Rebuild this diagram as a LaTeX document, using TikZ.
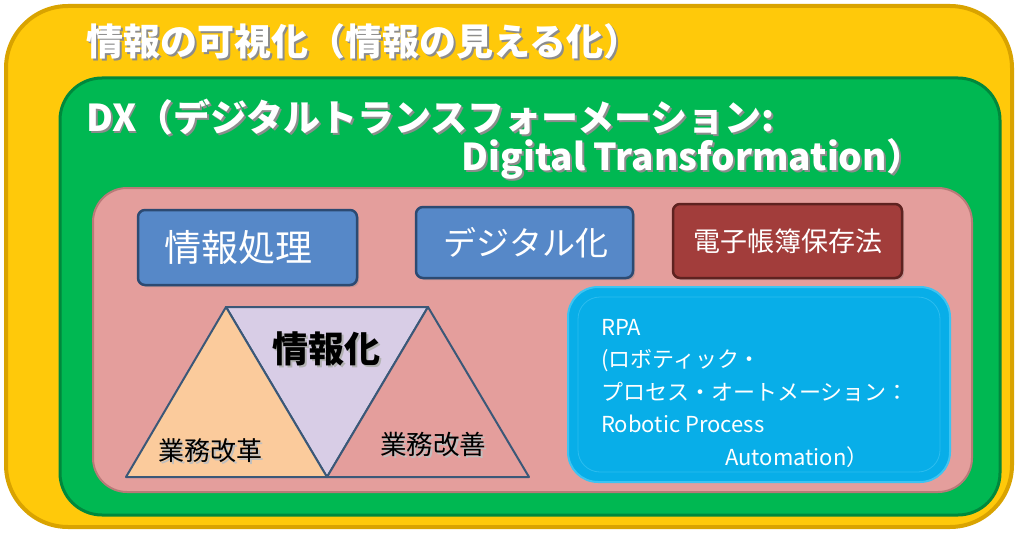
\documentclass[tikz,border=0pt]{standalone}
\usepackage{fontspec}
\setmainfont{Noto Sans CJK JP}
\usetikzlibrary{shadows}
\definecolor{cYellow}{HTML}{FFC90A}
\definecolor{cYellowE}{HTML}{D9A300}
\definecolor{cGreen}{HTML}{00B852}
\definecolor{cGreenE}{HTML}{00883C}
\definecolor{cPink}{HTML}{E49E9C}
\definecolor{cPinkE}{HTML}{B87A78}
\definecolor{cBlue}{HTML}{5688C8}
\definecolor{cBlueE}{HTML}{2C4A72}
\definecolor{cRed}{HTML}{A23D3B}
\definecolor{cRedE}{HTML}{5E2220}
\definecolor{cCyan}{HTML}{08AEE8}
\definecolor{cCyanE}{HTML}{3CC4F2}
\definecolor{cOrange}{HTML}{FBCB9C}
\definecolor{cLav}{HTML}{D8CDE6}
\definecolor{cTriE}{HTML}{3B5878}
\newcommand\shtxt[2][black!45]{\makebox[0pt][l]{\raisebox{-2pt}{\kern2pt\textcolor{#1}{#2}}}#2}
\begin{document}
\begin{tikzpicture}[x=1pt,y=-1pt,
  panel/.style={draw, rectangle, inner sep=0pt},
  btn/.style={panel, rounded corners=7pt, line width=2.5pt,
     drop shadow={shadow xshift=2pt, shadow yshift=-2pt, opacity=.35}},
  tri/.style={draw=cTriE, line width=2pt, line join=round},
  lbl/.style={inner sep=0pt, anchor=center},
  white title/.style={inner sep=0pt, text=white, font=\fontsize{37}{42}\selectfont\bfseries}
]
\useasboundingbox (0,0) rectangle (1018,535);
% outer yellow
\node[panel, fill=cYellow, draw=cYellowE, line width=4pt, rounded corners=62pt,
      minimum width=1006pt, minimum height=521pt] (outer) at (509,266.5) {};
\node[white title, anchor=west] (t1) at (86,42) {\shtxt{情報の可視化（情報の見える化）}};
% green
\node[panel, fill=cGreen, draw=cGreenE, line width=3pt, rounded corners=42pt,
      minimum width=940pt, minimum height=437pt] (green) at (530,296.5) {};
\node[white title, anchor=west] (t2) at (86,118) {\shtxt{DX（デジタルトランスフォーメーション:}};
\node[white title, anchor=east] (t3) at (924,160) {\shtxt{Digital Transformation）}};
% pink
\node[panel, fill=cPink, draw=cPinkE, line width=2pt, rounded corners=34pt,
      minimum width=879pt, minimum height=304pt] (pink) at (532.5,340) {};
% buttons
\node[btn, fill=cBlue, draw=cBlueE, minimum width=219pt, minimum height=75pt] (b1) at (247.5,247.5) {};
\node[lbl, text=white, font=\fontsize{37}{40}\selectfont] (b1t) at (238,247) {情報処理};
\node[btn, fill=cBlue, draw=cBlueE, minimum width=217pt, minimum height=71pt] (b2) at (524.5,242.5) {};
\node[lbl, text=white, font=\fontsize{33}{40}\selectfont] (b2t) at (526,242.5) {デジタル化};
\node[btn, fill=cRed, draw=cRedE, minimum width=229pt, minimum height=74pt] (b3) at (787.5,241) {};
\node[lbl, text=white, font=\fontsize{27}{32}\selectfont] (b3t) at (b3.center) {電子帳簿保存法};
% RPA
\node[panel, fill=cCyan, draw=cCyanE, line width=2pt, rounded corners=30pt,
      minimum width=382pt, minimum height=195pt] (rpa) at (759,384.5) {};
\node[panel, draw=cCyanE!70!cCyan, line width=0.8pt, rounded corners=22pt,
      minimum width=362pt, minimum height=175pt] (rpain) at (rpa.center) {};
\node[inner sep=0pt, anchor=north west, text=white, align=left,
      font=\fontsize{22}{32.5}\selectfont] (rpat) at (601,319)
  {RPA\\(ロボティック・\\プロセス・オートメーション：\\Robotic Process\\\hspace*{124pt}Automation）};
% triangles
\coordinate (A) at (226,307);
\coordinate (B) at (428,307);
\coordinate (L) at (126,477);
\coordinate (M) at (327,477);
\coordinate (R) at (529,477);
\draw[tri, fill=cLav] (A) -- (B) -- (M) -- cycle;
\draw[tri, fill=cOrange] (A) -- (M) -- (L) -- cycle;
\draw[tri, fill=cPink] (B) -- (R) -- (M) -- cycle;
\node[lbl, font=\fontsize{36}{40}\selectfont\bfseries] (k1) at (326,350) {\shtxt[black!30]{情報化}};
\node[lbl, font=\fontsize{26}{30}\selectfont] (k2) at (210,452) {\shtxt[black!25]{業務改革}};
\node[lbl, font=\fontsize{26.5}{30}\selectfont] (k3) at (433,445) {\shtxt[black!25]{業務改善}};
\end{tikzpicture}
\end{document}
